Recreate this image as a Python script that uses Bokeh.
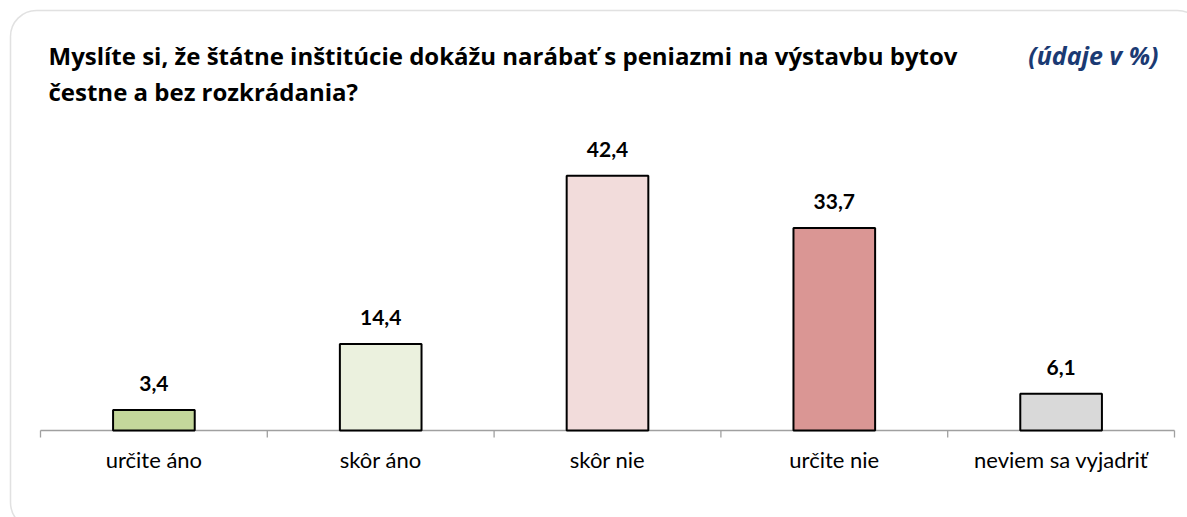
import math
from bokeh.plotting import figure
from bokeh.models import Range1d, ColumnDataSource, LabelSet, Label, BoxAnnotation
from bokeh.core.properties import value
from bokeh.embed import file_html
from bokeh.resources import INLINE

categories = ["určite áno", "skôr áno", "skôr nie", "určite nie", "neviem sa vyjadriť"]
values = [3.4, 14.4, 42.4, 33.7, 6.1]
value_labels = ["3,4", "14,4", "42,4", "33,7", "6,1"]
colors = ["#C4D79B", "#EBF1DE", "#F2DCDB", "#DA9694", "#D9D9D9"]
title_line1 = "Myslíte si, že štátne inštitúcie dokážu narábať s peniazmi na výstavbu bytov"
title_line2 = "čestne a bez rozkrádania?"
unit_note = "(údaje v %)"

# layout (pixels)
W, H = 1187, 517
LEFT, SLOT = 40, 226.8       # left of first category, width of a category slot
BASE, PXU = 430, 6.01        # pixel row of value 0, pixels per unit
FONT = "Lato"
TITLE_FONT = "Open Sans"
n = len(categories)

def X(px):
    return (px - LEFT) / SLOT

def Y(py):
    return (BASE - py) / PXU

xpos = [i + 0.5 for i in range(n)]
bounds = list(range(n + 1))

src = ColumnDataSource(dict(x=xpos, cat=categories, val=values, lab=value_labels, col=colors))

p = figure(x_range=Range1d(X(0), X(W)), y_range=Range1d(Y(H), Y(0)),
           width=W, height=H, output_backend="svg", toolbar_location=None,
           x_axis_location=None, y_axis_location=None,
           min_border_left=0, min_border_right=0, min_border_top=0, min_border_bottom=0)
p.outline_line_color = None
p.xgrid.visible = False
p.ygrid.visible = False
p.background_fill_color = "white"
p.border_fill_color = "white"

# category axis: line + boundary ticks
p.segment(x0=[bounds[0]], y0=[0], x1=[bounds[-1]], y1=[0], line_color="#A0A0A0", line_width=1.3)
p.ray(x=bounds, y=[0] * len(bounds), length=7, length_units="screen", angle=-math.pi / 2,
      line_color="#A0A0A0", line_width=1.3)

p.vbar(x="x", top="val", width=0.36, source=src, fill_color="col",
       line_color="black", line_width=2)

p.add_layout(LabelSet(x="x", y="val", text="lab", source=src, y_offset=19,
                      text_align="center", text_baseline="alphabetic",
                      text_font=value(FONT), text_font_style="bold", text_font_size="21px",
                      text_color="black"))
p.add_layout(LabelSet(x="x", y=0, text="cat", source=src, y_offset=-37,
                      text_align="center", text_baseline="alphabetic",
                      text_font=value(FONT), text_font_size="22px", text_color="black"))

# rounded border
p.add_layout(BoxAnnotation(left=X(10), right=X(1203), top=Y(10), bottom=Y(528),
                           border_radius=26, fill_color=None, line_color="#9C9C9C",
                           line_width=1.5))

p.add_layout(Label(x=X(48), y=Y(55), text=title_line1,
                   text_font=TITLE_FONT, text_font_style="bold", text_font_size="24px",
                   text_baseline="alphabetic", text_color="black"))
p.add_layout(Label(x=X(48), y=Y(91), text=title_line2,
                   text_font=TITLE_FONT, text_font_style="bold", text_font_size="24px",
                   text_baseline="alphabetic", text_color="black"))
p.add_layout(Label(x=X(1158), y=Y(54), text=unit_note,
                   text_font=TITLE_FONT, text_font_style="bold italic", text_font_size="25px",
                   text_align="right", text_baseline="alphabetic", text_color="#1B3A73"))

open("out.html", "w").write(file_html(p, INLINE))
